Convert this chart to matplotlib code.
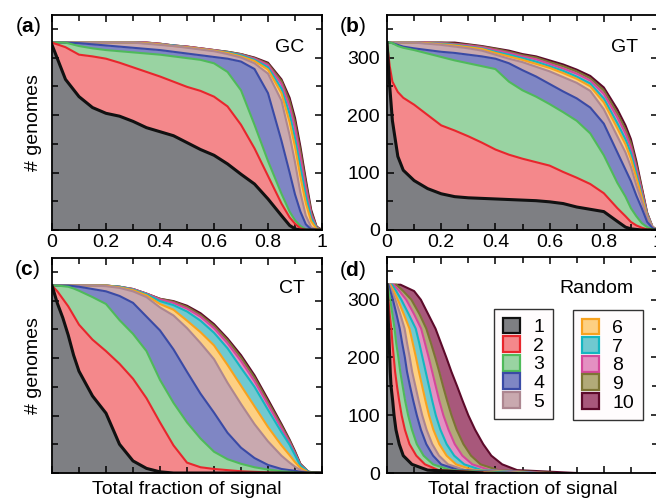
import matplotlib
matplotlib.use('Agg')
import matplotlib.pyplot as plt
import numpy as np
from matplotlib.patches import Patch

plt.rcParams['font.family'] = 'Liberation Sans'
plt.rcParams['font.size'] = 14
plt.rcParams['mathtext.fontset'] = 'custom'
plt.rcParams['mathtext.rm'] = 'Liberation Sans'
plt.rcParams['mathtext.bf'] = 'Liberation Sans:bold'

# colours for the top-1 ... top-10 bands (fill, line)
fills = ['#7e7f83', '#f4888b', '#99d3a2', '#7f86c4', '#c9a9af',
         '#fdd082', '#70c9d0', '#e490c2', '#b2aa78', '#a8587b']
lines = ['#111111', '#e8262c', '#4fba5a', '#3a4aa5', '#ad8690',
         '#f7a21e', '#14b6c0', '#d4489a', '#7c7434', '#5c0a2a']
names = [str(i) for i in range(1, 11)]

# ---- (a) GC
xa = [0, 0.05, 0.1, 0.15, 0.2, 0.25, 0.3, 0.35, 0.4, 0.45, 0.5, 0.55, 0.6,
      0.65, 0.7, 0.75, 0.8, 0.85, 0.88, 0.9, 0.92, 0.94, 0.96, 0.98, 1.0]
a1 = [322, 262, 232, 213, 203, 198, 189, 178, 171, 164, 152, 140, 130, 115, 97, 80, 54, 25, 8, 2, 0, 0, 0, 0, 0]
a2 = [326, 318, 305, 302, 298, 291, 283, 275, 267, 258, 249, 242, 232, 215, 183, 142, 94, 46, 22, 11, 3, 0, 0, 0, 0]
a3 = [326, 326, 320, 316, 313, 311, 309, 307, 305, 302, 299, 296, 290, 275, 243, 183, 120, 63, 32, 17, 7, 1, 0, 0, 0]
a4 = [326, 326, 325, 323, 321, 319, 317, 315, 313, 310, 307, 304, 301, 298, 293, 280, 238, 155, 100, 62, 32, 10, 1, 0, 0]
a5 = [326, 326, 326, 326, 326, 326, 326, 324, 322, 320, 317, 314, 311, 306, 300, 290, 272, 225, 165, 118, 65, 25, 5, 0, 0]
a6 = [326, 326, 326, 326, 326, 326, 326, 325, 323, 320, 318, 315, 312, 308, 302, 294, 279, 238, 188, 145, 93, 47, 15, 2, 0]
a7 = [326, 326, 326, 326, 326, 326, 326, 325, 323, 321, 318, 315, 312, 309, 304, 296, 283, 246, 202, 160, 110, 60, 21, 3, 0]
a8 = [326, 326, 326, 326, 326, 326, 326, 326, 324, 321, 319, 316, 313, 309, 305, 298, 287, 254, 215, 177, 127, 74, 27, 4, 0]
a9 = [326, 326, 326, 326, 326, 326, 326, 326, 324, 321, 319, 316, 313, 310, 306, 299, 289, 259, 224, 187, 137, 82, 31, 5, 0]
a10 = [326, 326, 326, 326, 326, 326, 326, 326, 324, 321, 319, 316, 313, 310, 306, 300, 291, 262, 230, 195, 145, 88, 35, 6, 0]

# ---- (b) GT
xb = [0, 0.01, 0.02, 0.04, 0.06, 0.1, 0.15, 0.2, 0.25, 0.3, 0.35, 0.4, 0.45, 0.5,
      0.55, 0.6, 0.65, 0.7, 0.75, 0.8, 0.85, 0.88, 0.9, 0.92, 0.94, 0.96, 0.98, 1.0]
b1 = [326, 250, 190, 128, 104, 86, 72, 63, 58, 56, 55, 54, 53, 52, 51, 49, 46, 40, 36, 32, 15, 5, 2, 1, 0, 0, 0, 0]
b2 = [326, 285, 258, 240, 230, 218, 200, 182, 173, 163, 152, 140, 131, 124, 118, 112, 101, 91, 80, 64, 38, 24, 14, 8, 4, 1, 0, 0]
b3 = [326, 326, 325, 320, 317, 313, 307, 301, 295, 290, 285, 280, 258, 243, 232, 219, 205, 190, 168, 130, 82, 58, 38, 24, 12, 5, 1, 0]
b4 = [326, 326, 325, 322, 319, 316, 313, 310, 308, 305, 302, 298, 290, 278, 267, 254, 241, 229, 213, 185, 135, 105, 85, 60, 38, 14, 3, 0]
b5 = [326, 326, 326, 326, 326, 326, 324, 322, 319, 316, 312, 305, 298, 292, 284, 276, 266, 256, 242, 210, 163, 135, 110, 78, 50, 22, 5, 0]
b6 = [326, 326, 326, 326, 326, 326, 325, 323, 321, 318, 315, 308, 302, 296, 289, 282, 273, 263, 250, 222, 177, 149, 124, 91, 58, 24, 5, 0]
b7 = [326, 326, 326, 326, 326, 326, 325, 324, 322, 319, 316, 310, 305, 299, 293, 285, 277, 267, 255, 229, 186, 158, 134, 99, 62, 26, 5, 0]
b8 = [326, 326, 326, 326, 326, 326, 326, 325, 323, 321, 318, 313, 308, 302, 297, 289, 281, 272, 260, 237, 196, 168, 144, 108, 68, 28, 5, 0]
b9 = [326, 326, 326, 326, 326, 326, 326, 326, 324, 322, 319, 315, 310, 304, 300, 292, 285, 276, 264, 243, 203, 175, 151, 114, 72, 29, 5, 0]
b10 = [326, 326, 326, 326, 326, 326, 326, 326, 326, 323, 320, 316, 312, 306, 302, 295, 288, 279, 268, 248, 210, 182, 158, 120, 75, 30, 5, 0]

# ---- (c) CT
xc = [0, 0.02, 0.04, 0.06, 0.08, 0.1, 0.15, 0.2, 0.25, 0.3, 0.35, 0.4, 0.45,
      0.5, 0.55, 0.6, 0.65, 0.7, 0.75, 0.8, 0.85, 0.88, 0.9, 0.92, 0.95, 1.0]
c1 = [326, 295, 270, 240, 205, 177, 134, 104, 50, 21, 8, 2, 0, 0, 0, 0, 0, 0, 0, 0, 0, 0, 0, 0, 0, 0]
c2 = [326, 316, 303, 290, 274, 258, 232, 212, 190, 164, 130, 88, 48, 18, 10, 7, 5, 3, 2, 1, 0, 0, 0, 0, 0, 0]
c3 = [326, 326, 325, 324, 321, 317, 306, 294, 266, 242, 212, 162, 122, 88, 60, 37, 24, 16, 10, 6, 3, 2, 1, 0, 0, 0]
c4 = [326, 326, 326, 326, 325, 324, 320, 316, 308, 296, 272, 248, 215, 176, 138, 105, 70, 44, 26, 14, 7, 5, 4, 2, 0, 0]
c5 = [326, 326, 326, 326, 326, 326, 326, 325, 322, 316, 306, 288, 274, 252, 226, 198, 157, 120, 85, 55, 30, 18, 11, 5, 0, 0]
c6 = [326, 326, 326, 326, 326, 326, 326, 326, 323, 318, 309, 294, 284, 265, 245, 222, 188, 152, 116, 80, 48, 31, 19, 9, 1, 0]
c7 = [326, 326, 326, 326, 326, 326, 326, 326, 324, 319, 311, 299, 292, 281, 265, 244, 217, 183, 150, 110, 71, 49, 31, 13, 2, 0]
c8 = [326, 326, 326, 326, 326, 326, 326, 326, 324, 320, 312, 302, 296, 286, 272, 252, 226, 195, 160, 119, 78, 53, 34, 14, 2, 0]
c9 = [326, 326, 326, 326, 326, 326, 326, 326, 324, 320, 312, 303, 298, 289, 275, 256, 231, 201, 166, 124, 82, 56, 36, 15, 2, 0]
c10 = [326, 326, 326, 326, 326, 326, 326, 326, 324, 320, 312, 303, 299, 291, 278, 259, 234, 205, 170, 128, 85, 58, 38, 16, 2, 0]

# ---- (d) Random: read as x position of each curve at fixed genome counts
yd = [326, 326, 315, 300, 275, 250, 225, 200, 175, 150, 125, 100, 75, 50, 30, 15, 5, 0]
d1 = [0, 0, 0.001, 0.002, 0.004, 0.006, 0.008, 0.01, 0.012, 0.015, 0.021, 0.026, 0.033, 0.045, 0.06, 0.092, 0.15, 0.35]
d2 = [0, 0, 0.002, 0.005, 0.01, 0.016, 0.02, 0.025, 0.03, 0.037, 0.045, 0.054, 0.066, 0.083, 0.108, 0.14, 0.19, 0.4]
d3 = [0, 0.002, 0.006, 0.012, 0.02, 0.028, 0.034, 0.042, 0.049, 0.058, 0.067, 0.078, 0.092, 0.11, 0.135, 0.17, 0.235, 0.45]
d4 = [0, 0.005, 0.012, 0.022, 0.035, 0.047, 0.056, 0.066, 0.074, 0.085, 0.097, 0.11, 0.125, 0.145, 0.17, 0.2, 0.265, 0.48]
d5 = [0, 0.008, 0.018, 0.031, 0.049, 0.065, 0.074, 0.084, 0.093, 0.105, 0.117, 0.13, 0.146, 0.167, 0.192, 0.225, 0.29, 0.5]
d6 = [0, 0.012, 0.025, 0.04, 0.062, 0.083, 0.095, 0.107, 0.118, 0.13, 0.142, 0.155, 0.171, 0.193, 0.22, 0.255, 0.32, 0.52]
d7 = [0, 0.018, 0.034, 0.053, 0.08, 0.106, 0.119, 0.131, 0.143, 0.155, 0.167, 0.18, 0.197, 0.22, 0.248, 0.285, 0.35, 0.55]
d8 = [0, 0.025, 0.046, 0.071, 0.1, 0.126, 0.14, 0.154, 0.167, 0.18, 0.193, 0.208, 0.227, 0.25, 0.278, 0.315, 0.38, 0.58]
d9 = [0, 0.035, 0.06, 0.09, 0.12, 0.145, 0.162, 0.178, 0.193, 0.207, 0.222, 0.238, 0.257, 0.282, 0.31, 0.345, 0.41, 0.62]
d10 = [0, 0.05, 0.1, 0.125, 0.152, 0.179, 0.199, 0.219, 0.238, 0.259, 0.279, 0.3, 0.325, 0.355, 0.385, 0.425, 0.48, 0.7]

W, H = 656, 498
fig = plt.figure(figsize=(W / 100, H / 100), dpi=100)


def px_axes(l, t, r, b):
    return fig.add_axes([l / W, 1 - b / H, (r - l) / W, (b - t) / H])


def style(ax, xlab, ylab):
    ax.set_xlim(0, 1)
    ax.set_ylim(0, 374)
    ax.set_xticks([0, 0.2, 0.4, 0.6, 0.8, 1.0])
    ax.set_xticks([0.1, 0.3, 0.5, 0.7, 0.9], minor=True)
    ax.set_yticks([0, 100, 200, 300])
    ax.set_yticks([50, 150, 250, 350], minor=True)
    ax.tick_params(which='both', direction='in', top=True, right=True, width=1.1)
    ax.tick_params(which='major', length=5)
    ax.tick_params(which='minor', length=4)
    ax.tick_params(axis='x', pad=3)
    ax.tick_params(axis='y', pad=5)
    if xlab:
        ax.set_xticklabels(['0', '0.2', '0.4', '0.6', '0.8', '1'])
    else:
        ax.set_xticklabels([])
    if ylab:
        ax.set_yticklabels(['0', '100', '200', '300'])
    else:
        ax.set_yticklabels([])
    for s in ax.spines.values():
        s.set_linewidth(1.3)


def stacked(ax, x, curves):
    prev = np.zeros(len(x))
    for k, cur in enumerate(curves):
        ax.fill_between(x, prev, cur, color=fills[k], lw=0)
        prev = np.array(cur)
    for k in range(len(curves) - 1, -1, -1):
        ax.plot(x, curves[k], color=lines[k], lw=2.2 if k == 0 else 1.5,
                solid_joinstyle='round')


ax_a = px_axes(52, 15, 322, 230)
stacked(ax_a, xa, [a1, a2, a3, a4, a5, a6, a7, a8, a9, a10])
style(ax_a, True, False)
ax_a.set_ylabel('# genomes')
ax_a.yaxis.set_label_coords(-0.037, 0.5)
ax_a.text(0.935, 0.85, 'GC', transform=ax_a.transAxes, ha='right', va='center')

ax_b = px_axes(387, 15, 658, 230)
stacked(ax_b, xb, [b1, b2, b3, b4, b5, b6, b7, b8, b9, b10])
style(ax_b, True, True)
ax_b.text(0.925, 0.85, 'GT', transform=ax_b.transAxes, ha='right', va='center')

ax_c = px_axes(52, 258, 322, 473)
stacked(ax_c, xc, [c1, c2, c3, c4, c5, c6, c7, c8, c9, c10])
style(ax_c, False, False)
ax_c.set_ylabel('# genomes')
ax_c.yaxis.set_label_coords(-0.037, 0.5)
ax_c.set_xlabel('Total fraction of signal', va='top')
ax_c.xaxis.set_label_coords(0.5, -0.037)
ax_c.text(0.935, 0.856, 'CT', transform=ax_c.transAxes, ha='right', va='center')

ax_d = px_axes(387, 257, 658, 473)
dcurves = [d1, d2, d3, d4, d5, d6, d7, d8, d9, d10]
prev = np.zeros(len(yd))
for k, cur in enumerate(dcurves):
    ax_d.fill_betweenx(yd, prev, cur, color=fills[k], lw=0)
    prev = np.array(cur)
for k in range(9, -1, -1):
    ax_d.plot(dcurves[k], yd, color=lines[k], lw=2.2 if k == 0 else 1.5,
              solid_joinstyle='round')
style(ax_d, False, True)
ax_d.set_xlabel('Total fraction of signal', va='top')
ax_d.xaxis.set_label_coords(0.5, -0.037)
ax_d.text(0.908, 0.856, 'Random', transform=ax_d.transAxes, ha='right', va='center')

handles = [Patch(facecolor=fills[k], edgecolor=lines[k], lw=1.6) for k in range(10)]
leg_kw = dict(loc='upper left', borderaxespad=0, fancybox=False, framealpha=1,
              edgecolor='#333333', facecolor='#fffcfd', fontsize=14,
              handlelength=0.87, handleheight=0.87, handletextpad=0.7,
              labelspacing=0.0, borderpad=0.45)
leg1 = ax_d.legend(handles[:5], names[:5], bbox_to_anchor=(0.395, 0.76), **leg_kw)
leg1.get_frame().set_linewidth(1.0)
ax_d.add_artist(leg1)
leg2 = ax_d.legend(handles[5:], names[5:], bbox_to_anchor=(0.686, 0.755), **leg_kw)
leg2.get_frame().set_linewidth(1.0)

for lab, xp, yp in [('a', 28, 26), ('b', 353, 26), ('c', 27, 269), ('d', 353, 270)]:
    fig.text(xp / W, 1 - yp / H, r'($\mathbf{%s}$)' % lab, ha='center', va='center', fontsize=15)

fig.savefig('out.png', dpi=100)
